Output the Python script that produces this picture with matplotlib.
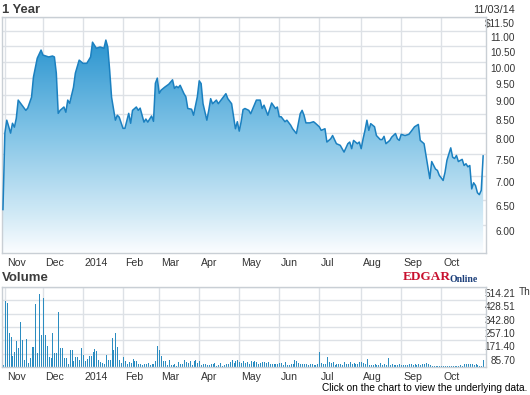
import numpy as np
import matplotlib
matplotlib.use('Agg')
import matplotlib.pyplot as plt
import matplotlib.transforms as mtransforms
from matplotlib import font_manager as fm
from matplotlib.colors import LinearSegmentedColormap
from matplotlib.ticker import NullLocator

# price (trading day number from 11/04/13, close in $)
price_day = [0, 1, 2, 3, 4, 5, 6, 7, 8, 10, 12, 13, 15, 16, 18, 20, 21, 24, 26, 27,
             28, 29, 30, 32, 33, 34, 35, 37, 38, 40, 42, 44, 46, 47, 49, 51, 53, 54, 55, 56,
             57, 59, 60, 61, 63, 64, 66, 67, 68, 70, 71, 72, 74, 75, 76, 78, 79, 80, 81, 82,
             83, 85, 87, 89, 90, 91, 92, 93, 95, 96, 97, 99, 100, 102, 103, 104, 105, 107, 108, 109,
             110, 112, 113, 115, 117, 118, 120, 122, 123, 124, 125, 126, 127, 129, 130, 133, 135, 136, 137, 139,
             141, 143, 144, 145, 146, 148, 149, 151, 152, 154, 156, 157, 158, 159, 161, 163, 164, 166, 167, 169,
             170, 172, 173, 175, 177, 179, 181, 182, 183, 184, 186, 187, 188, 189, 190, 191, 192, 193, 195, 196,
             198, 199, 200, 201, 203, 204, 206, 207, 208, 209, 211, 213, 214, 216, 218, 219, 220, 221, 222, 223,
             224, 225, 227, 228, 229, 231, 232, 233, 235, 236, 237, 238, 239, 241, 242, 243, 244, 245, 246, 247,
             248, 249, 250, 251, 252]
price = [6.30, 8.00, 8.33, 8.17, 8.00, 8.25, 8.15, 8.38, 8.87, 8.73, 8.59, 8.65, 8.95, 9.53, 10.11, 10.37, 10.21, 10.15, 10.18, 10.15,
         9.65, 8.51, 8.59, 8.68, 8.54, 8.87, 8.78, 9.23, 9.65, 10.05, 9.95, 9.95, 10.15, 10.63, 10.43, 10.47, 10.43, 10.70, 10.47, 9.74,
         8.95, 8.33, 8.46, 8.41, 8.12, 8.12, 8.51, 8.25, 8.59, 8.68, 8.59, 8.65, 8.28, 8.36, 8.28, 8.44, 8.30, 9.35, 9.50, 9.06,
         9.15, 9.24, 9.32, 9.45, 9.20, 9.26, 9.22, 9.29, 9.05, 8.96, 8.64, 8.62, 8.46, 8.96, 9.42, 9.34, 8.77, 8.33, 8.59, 8.91,
         8.77, 8.87, 8.77, 8.91, 9.05, 8.91, 8.77, 8.11, 8.29, 8.05, 8.29, 8.61, 8.64, 8.59, 8.50, 8.87, 8.87, 8.64, 8.73, 8.46,
         8.79, 8.64, 8.68, 8.42, 8.42, 8.29, 8.33, 8.20, 8.11, 7.99, 8.50, 8.59, 8.46, 8.26, 8.26, 8.29, 8.25, 8.16, 8.07, 8.11,
         7.78, 7.86, 7.94, 7.74, 7.70, 7.54, 7.74, 7.78, 7.62, 7.82, 7.74, 7.78, 7.62, 7.86, 8.07, 8.33, 8.07, 8.24, 8.16, 7.94,
         7.84, 7.84, 7.92, 7.74, 7.82, 7.90, 7.99, 7.86, 7.82, 7.97, 7.94, 7.97, 8.03, 8.16, 8.22, 7.82, 7.78, 7.74, 7.46, 7.20,
         6.94, 7.32, 7.15, 7.12, 7.01, 6.90, 7.08, 7.35, 7.64, 7.42, 7.39, 7.46, 7.32, 7.37, 7.23, 7.27, 7.20, 7.23, 6.72, 6.85,
         6.79, 6.64, 6.60, 6.69, 7.45]

# daily volume in thousands, one bar per trading day
volume = [13, 424, 409, 216, 191, 73, 99, 167, 124, 291,
          173, 45, 180, 28, 60, 131, 131, 403, 90, 469,
          206, 441, 206, 135, 64, 56, 216, 88, 88, 351,
          122, 122, 60, 60, 19, 107, 107, 39, 64, 64,
          45, 122, 77, 39, 54, 71, 71, 99, 116, 103,
          43, 32, 28, 21, 77, 47, 47, 186, 109, 216,
          129, 43, 26, 64, 39, 21, 32, 28, 51, 36,
          36, 19, 19, 13, 19, 19, 24, 13, 21, 21,
          36, 135, 107, 71, 36, 36, 13, 45, 13, 11,
          17, 9, 32, 19, 19, 43, 32, 26, 39, 13,
          39, 43, 28, 39, 13, 21, 19, 11, 13, 17,
          21, 24, 9, 13, 24, 9, 13, 21, 21, 30,
          45, 28, 36, 45, 30, 24, 36,
          26, 32, 21, 39, 34, 39, 30, 21, 24, 30,
          34, 26, 30, 21, 21, 19, 17, 21, 26, 26,
          13, 30, 11, 13, 17, 21, 43, 39, 26, 21,
          17, 21, 19, 13, 17, 19, 13, 15, 19,
          94,
          24, 21, 19, 64, 30, 26, 30, 13, 17, 21,
          17, 13, 30, 21, 21, 30, 21, 26, 17, 21,
          30, 30, 26, 21, 51,
          13, 13, 13, 21, 13, 13, 24, 13, 17, 13, 58,
          13, 17, 13, 13, 13, 17, 11, 13, 13, 15, 17, 17, 13, 21, 13, 21, 13, 21, 17, 24, 21, 13, 9, 9,
          9, 9, 6, 9, 6, 9, 9, 6, 9, 9, 6, 9, 9, 11, 9, 19, 17, 19, 21, 17, 13, 21, 13, 9, 6,
          47]

month_day = [1, 21, 42, 63, 82, 103, 124, 145, 166, 188, 209, 230]
month_lab = ['Nov', 'Dec', '2014', 'Feb', 'Mar', 'Apr', 'May', 'Jun', 'Jul', 'Aug', 'Sep', 'Oct']

price_ticks = [6.0, 6.5, 7.0, 7.5, 8.0, 8.5, 9.0, 9.5, 10.0, 10.5, 11.0, 11.5]
price_labs = ['6.00', '6.50', '7.00', '7.50', '8.00', '8.50', '9.00', '9.50', '10.00', '10.50', '11.00', '$11.50']
vol_ticks = [85.70, 171.40, 257.10, 342.80, 428.51, 514.21]
vol_labs = ['85.70', '171.40', '257.10', '342.80', '428.51', '514.21']

names = {f.name for f in fm.fontManager.ttflist}
narrow = 'Liberation Sans Narrow' if 'Liberation Sans Narrow' in names else 'Liberation Sans'
plt.rcParams['font.family'] = ['Liberation Sans', 'DejaVu Sans']

grid_c = '#dde1e6'
spine_c = '#c9cfd5'
txt_c = '#333333'

W, H = 530, 395
fig = plt.figure(figsize=(W / 100, H / 100), dpi=100)
fig.patch.set_facecolor('white')
ax = fig.add_axes([2 / W, 1 - 253 / H, 484 / W, 236 / H])
axv = fig.add_axes([2 / W, 1 - 367 / H, 484 / W, 80 / H])

n = len(volume)
for a in (ax, axv):
    a.set_xlim(-0.5, n + 0.5)
    a.set_xticks(month_day)
    a.set_xticklabels(month_lab, fontsize=7.6, family=narrow, color=txt_c)
    a.tick_params(axis='x', length=0, pad=3.5)
    a.tick_params(axis='y', length=0, pad=21, labelsize=7.2, labelcolor=txt_c)
    a.yaxis.tick_right()
    a.grid(True, color=grid_c, lw=1)
    a.set_axisbelow(True)
    for s in a.spines.values():
        s.set_color(spine_c)
        s.set_linewidth(1)
    off = mtransforms.ScaledTranslation(2 / 100, 0, fig.dpi_scale_trans)
    for lbl in a.get_xticklabels():
        lbl.set_ha('left')
        lbl.set_transform(lbl.get_transform() + off)

# price panel
ax.set_yscale('log')
ax.set_ylim(5.5, 11.5)
ax.yaxis.set_minor_locator(NullLocator())
ax.set_yticks(price_ticks)
ax.set_yticklabels(price_labs, family=narrow)

poly = ax.fill_between(price_day, price, 5.5, color='none', lw=0)
cmap = LinearSegmentedColormap.from_list('fill', [(0, '#fbfdff'), (0.16, '#d2eaf6'), (0.52, '#80c3e6'),
                                                  (0.86, '#359ad2'), (1, '#1f88c8')])
grad = ax.imshow(np.linspace(1, 0, 256).reshape(-1, 1), extent=[0, 1, 0, 1], transform=ax.transAxes,
                 aspect='auto', cmap=cmap, vmin=0, vmax=1, zorder=1)
grad.set_clip_path(poly.get_paths()[0], ax.transData)
ax.plot(price_day, price, color='#1b80c0', lw=1.1, zorder=3)
ax.set_xlim(-0.5, n + 0.5)
ax.set_ylim(5.5, 11.5)

# volume panel
axv.vlines(np.arange(n), 0, volume, color='#2b8cc0', lw=0.72, antialiased=False, zorder=2)
axv.set_ylim(0, 514.21)
axv.set_yticks(vol_ticks)
axv.set_yticklabels(vol_labs, family=narrow)

down = mtransforms.ScaledTranslation(0, -2 / 100, fig.dpi_scale_trans)
for a in (ax, axv):
    for lbl in a.get_yticklabels():
        lbl.set_ha('right')
        lbl.set_va('top')
        lbl.set_transform(lbl.get_transform() + down)

fig.text(2 / W, 1 - 10 / H, '1 Year', ha='left', va='center', fontsize=9.4, weight='bold', color='#3c3c3c')
fig.text(515 / W, 1 - 10 / H, '11/03/14', ha='right', va='center', fontsize=7.8, color=txt_c)
fig.text(2 / W, 1 - 278 / H, 'Volume', ha='left', va='center', fontsize=9.5, weight='bold', color='#3c3c3c')
fig.text(519 / W, 1 - 292 / H, 'Th', ha='left', va='center', fontsize=7.2, family=narrow, color=txt_c)
fig.text(403 / W, 1 - 277 / H, 'EDGAR', ha='left', va='center', fontsize=9.5, weight='bold',
         family='Liberation Serif', color='#c8102e')
fig.text(449 / W, 1 - 279 / H, 'Online', ha='left', va='center', fontsize=7, weight='bold',
         family='Liberation Serif', color='#1c3f7a')
fig.text(527 / W, 1 - 388 / H, 'Click on the chart to view the underlying data.', ha='right', va='center',
         fontsize=7.3, color='black')

fig.savefig('out.png', dpi=100)
